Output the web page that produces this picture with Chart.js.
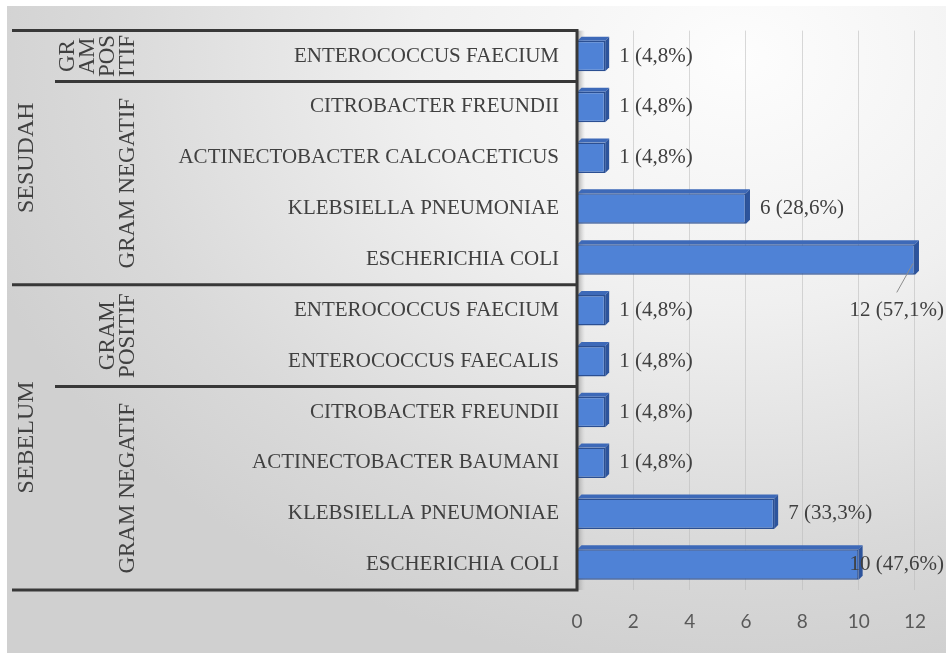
<!DOCTYPE html>
<html>
<head>
<meta charset="utf-8">
<script src="https://cdn.jsdelivr.net/npm/chart.js@4.4.0/dist/chart.umd.min.js"></script>
<style>
  html, body { margin: 0; padding: 0; background: #fff; }
  #wrap { position: relative; width: 946px; height: 653px; overflow: hidden; }
  #bg {
    position: absolute; left: 7px; top: 6px; width: 939px; height: 647px;
    background: radial-gradient(ellipse 85% 95% at 78% 8%, #fdfdfd 0%, #f0f0f0 40%, #d9d9d9 80%, #d0d0d0 100%);
  }
  #chart { position: absolute; left: 0; top: 0; }
  .probe { position: absolute; left: -9999px; top: 0; }
</style>
</head>
<body>
<div id="wrap">
  <div id="bg"></div>
  <canvas id="chart" width="946" height="653"></canvas>
</div>
<span class="probe" style="font-family:'Liberation Serif'">ABC 123</span>
<span class="probe" style="font-family:'Lato'">ABC 123</span>
<script>
// Data
var species = ['ENTEROCOCCUS FAECIUM', 'CITROBACTER FREUNDII', 'ACTINECTOBACTER CALCOACETICUS', 'KLEBSIELLA PNEUMONIAE', 'ESCHERICHIA COLI',
  'ENTEROCOCCUS FAECIUM', 'ENTEROCOCCUS FAECALIS', 'CITROBACTER FREUNDII', 'ACTINECTOBACTER BAUMANI', 'KLEBSIELLA PNEUMONIAE', 'ESCHERICHIA COLI'];
var counts = [1, 1, 1, 6, 12, 1, 1, 1, 1, 7, 10];
var percents = ['4,8', '4,8', '4,8', '28,6', '57,1', '4,8', '4,8', '4,8', '4,8', '33,3', '47,6'];
var periodNames = ['SESUDAH', 'SEBELUM'];
var periodSpans = [[0, 4], [5, 10]];
var gramNames = [['GR', 'AM', 'POS', 'ITIF'], ['GRAM NEGATIF'], ['GRAM', 'POSITIF'], ['GRAM NEGATIF']];
var gramSpans = [[0, 0], [1, 4], [5, 6], [7, 10]];
var xTicks = [0, 2, 4, 6, 8, 10, 12];

var serif = '"Liberation Serif", "Times New Roman", serif';
var textColor = '#404040';
var frameColor = '#383838';

// row edge helper
function rowEdges(yScale, from, to) {
  var half = (yScale.getPixelForValue(1) - yScale.getPixelForValue(0)) / 2;
  return [yScale.getPixelForValue(from) - half, yScale.getPixelForValue(to) + half];
}

function drawRotated(ctx, lines, lastX, cy, gap) {
  ctx.save();
  ctx.translate(lastX, cy);
  ctx.rotate(-Math.PI / 2);
  ctx.textAlign = 'center';
  ctx.textBaseline = 'middle';
  for (var i = 0; i < lines.length; i++) {
    ctx.fillText(lines[i], 0, (i - (lines.length - 1)) * gap);
  }
  ctx.restore();
}

// Side wall and frame with group labels
var framePlugin = {
  id: 'frame',
  beforeDatasetsDraw: function(chart) {
    var ctx = chart.ctx;
    var area = chart.chartArea;
    var g = ctx.createLinearGradient(area.left, 0, area.left + 8, 0);
    g.addColorStop(0, '#9c9c9c');
    g.addColorStop(1, 'rgba(200,200,200,0)');
    ctx.save();
    ctx.fillStyle = g;
    ctx.fillRect(area.left, area.top, 8, area.bottom - area.top);
    ctx.restore();
  },
  afterDraw: function(chart) {
    var ctx = chart.ctx;
    var area = chart.chartArea;
    var y = chart.scales.y;
    var outerLeft = 12;
    var innerLeft = 55;
    var axisX = area.left;
    ctx.save();
    ctx.strokeStyle = frameColor;
    ctx.lineWidth = 3;
    ctx.beginPath();
    // period borders
    for (var p = 0; p < periodSpans.length; p++) {
      var e = rowEdges(y, periodSpans[p][0], periodSpans[p][1]);
      ctx.moveTo(outerLeft, e[0]); ctx.lineTo(axisX, e[0]);
      ctx.moveTo(outerLeft, e[1]); ctx.lineTo(axisX, e[1]);
    }
    // gram borders inside a period
    for (var k = 0; k < gramSpans.length; k++) {
      var ge = rowEdges(y, gramSpans[k][0], gramSpans[k][1]);
      ctx.moveTo(innerLeft, ge[1]); ctx.lineTo(axisX, ge[1]);
    }
    ctx.moveTo(axisX, area.top - 1.5); ctx.lineTo(axisX, area.bottom + 1.5);
    ctx.stroke();

    ctx.fillStyle = textColor;
    ctx.font = '24px ' + serif;
    for (var q = 0; q < periodNames.length; q++) {
      var pe = rowEdges(y, periodSpans[q][0], periodSpans[q][1]);
      drawRotated(ctx, [periodNames[q]], 27, (pe[0] + pe[1]) / 2, 20);
    }
    ctx.font = '23px ' + serif;
    for (var m = 0; m < gramNames.length; m++) {
      var me = rowEdges(y, gramSpans[m][0], gramSpans[m][1]);
      drawRotated(ctx, gramNames[m], 128, (me[0] + me[1]) / 2, 20);
    }
    ctx.restore();
  }
};

// 3D depth on bars and value labels
var barPlugin = {
  id: 'barLabels',
  afterDatasetsDraw: function(chart) {
    var ctx = chart.ctx;
    var meta = chart.getDatasetMeta(0);
    var d = 4;
    ctx.save();
    meta.data.forEach(function(bar, i) {
      var top = bar.y - bar.height / 2;
      var bottom = bar.y + bar.height / 2;
      ctx.fillStyle = '#3d69b8';
      ctx.beginPath();
      ctx.moveTo(bar.base, top); ctx.lineTo(bar.base + d, top - d);
      ctx.lineTo(bar.x + d, top - d); ctx.lineTo(bar.x, top); ctx.closePath();
      ctx.fill();
      ctx.fillStyle = '#2d549c';
      ctx.beginPath();
      ctx.moveTo(bar.x, top); ctx.lineTo(bar.x + d, top - d);
      ctx.lineTo(bar.x + d, bottom - d); ctx.lineTo(bar.x, bottom); ctx.closePath();
      ctx.fill();
    });

    ctx.font = '21px ' + serif;
    ctx.fillStyle = textColor;
    ctx.textBaseline = 'middle';
    var W = chart.width;
    meta.data.forEach(function(bar, i) {
      var text = counts[i] + ' (' + percents[i] + '%)';
      var w = ctx.measureText(text).width;
      var x = bar.x + 14;
      if (x + w > W - 2) {
        x = W - 2 - w;
        if (x < bar.x - 30) {
          // no room: put it under the bar with a leader line
          var cx = x + w / 2;
          ctx.strokeStyle = '#8c8c8c';
          ctx.lineWidth = 1;
          ctx.beginPath();
          ctx.moveTo(bar.x - 2, bar.y + 4);
          ctx.lineTo(cx, bar.y + 33);
          ctx.stroke();
          ctx.textAlign = 'center';
          ctx.fillText(text, cx, bar.y + 51);
          return;
        }
      }
      ctx.textAlign = 'left';
      ctx.fillText(text, x, bar.y);
    });
    ctx.restore();
  }
};

function drawChart() {
  var ctx = document.getElementById('chart').getContext('2d');
  new Chart(ctx, {
    type: 'bar',
    data: {
      labels: species,
      datasets: [{
        data: counts,
        backgroundColor: '#4f82d6',
        borderColor: '#2b4f92',
        borderWidth: 1.5,
        barPercentage: 0.6,
        categoryPercentage: 1
      }]
    },
    options: {
      indexAxis: 'y',
      responsive: false,
      animation: false,
      devicePixelRatio: 1,
      layout: { padding: { top: 15, right: 26, bottom: 0, left: 0 } },
      plugins: { legend: { display: false }, tooltip: { enabled: false } },
      scales: {
        x: {
          min: xTicks[0],
          max: xTicks[xTicks.length - 1],
          afterBuildTicks: function(scale) {
            scale.ticks = xTicks.map(function(v) { return { value: v }; });
          },
          ticks: { color: '#595959', font: { family: 'Lato', size: 19 }, padding: 20 },
          grid: { color: 'rgba(185,185,185,0.55)', drawTicks: false },
          border: { display: false },
          afterFit: function(scale) { scale.height = 63; }
        },
        y: {
          ticks: { color: textColor, font: { family: serif, size: 21 }, padding: 18 },
          grid: { display: false, drawTicks: false },
          border: { display: false },
          afterFit: function(scale) { scale.width = 577; }
        }
      }
    },
    plugins: [framePlugin, barPlugin]
  });
}

Promise.all([
  document.fonts.load('21px "Liberation Serif"'),
  document.fonts.load('24px "Liberation Serif"'),
  document.fonts.load('19px Lato')
]).then(drawChart, drawChart);
</script>
</body>
</html>
